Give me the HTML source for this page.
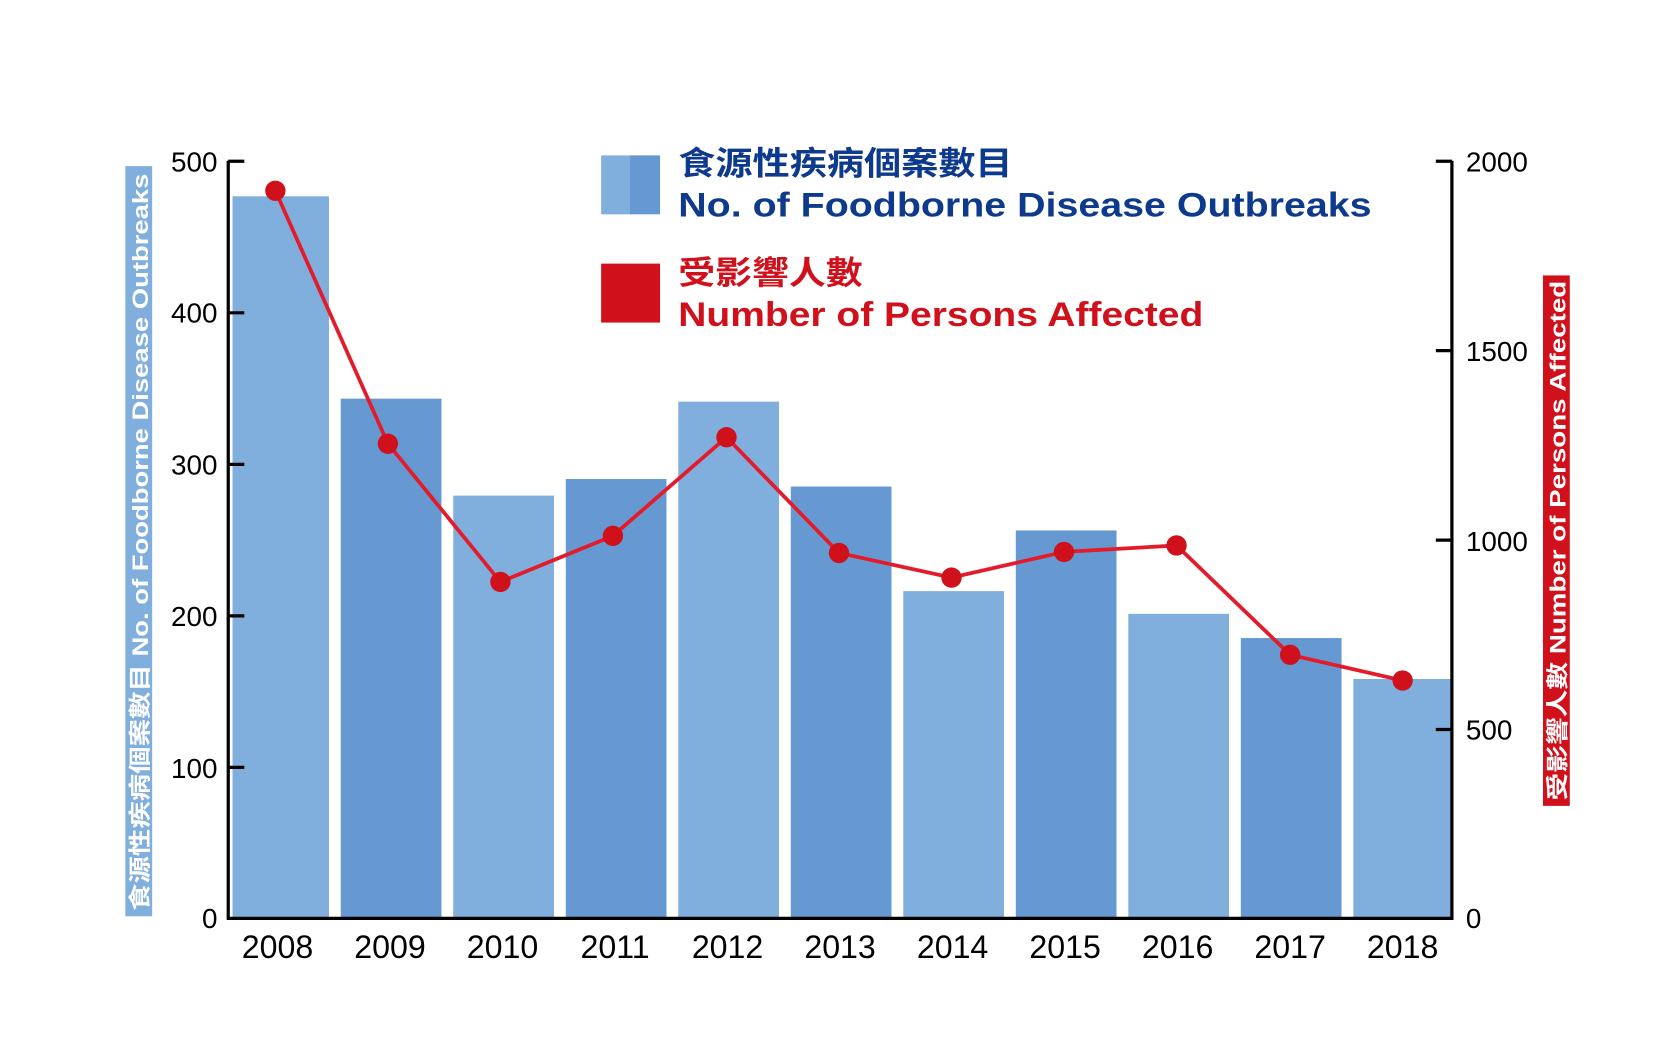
<!DOCTYPE html>
<html><head><meta charset="utf-8"><style>html,body{margin:0;padding:0;background:#fff}svg{display:block}</style></head>
<body>
<svg width="1678" height="1062" viewBox="0 0 1566 991" preserveAspectRatio="none" xmlns="http://www.w3.org/2000/svg" font-family="Liberation Sans, Noto Sans CJK TC, sans-serif">
<rect width="1566" height="991" fill="#fff"/>
<g id="bars">
<rect x="217" y="183.2" width="90" height="673.8" fill="#80aedd"/>
<rect x="318" y="372.0" width="94" height="485" fill="#6699d1"/>
<rect x="423" y="462.5" width="94" height="394.5" fill="#80aedd"/>
<rect x="528" y="447.0" width="94" height="410" fill="#6699d1"/>
<rect x="633" y="374.8" width="94" height="482.2" fill="#80aedd"/>
<rect x="738" y="454.0" width="94" height="403" fill="#6699d1"/>
<rect x="843" y="551.6" width="94" height="305.4" fill="#80aedd"/>
<rect x="948" y="495.0" width="94" height="362" fill="#6699d1"/>
<rect x="1053" y="572.8" width="94" height="284.2" fill="#80aedd"/>
<rect x="1158" y="595.4" width="94" height="261.6" fill="#6699d1"/>
<rect x="1263" y="633.6" width="92" height="223.4" fill="#80aedd"/>
</g>
<g stroke="#000" stroke-width="3" fill="none">
<path d="M213 150 V857 H1355 V150"/>
<path d="M213 150.5h15M213 291.9h15M213 433.3h15M213 574.7h15M213 716.1h15"/>
<path d="M1355 150.5h-15M1355 327.2h-15M1355 504h-15M1355 680.7h-15"/>
</g>
<g font-size="26" fill="#000" text-anchor="end">
<text x="203" y="160">500</text><text x="203" y="301">400</text><text x="203" y="443">300</text>
<text x="203" y="584">200</text><text x="203" y="726">100</text><text x="203" y="866">0</text>
</g>
<g font-size="26" fill="#000">
<text x="1368" y="160">2000</text><text x="1368" y="337">1500</text><text x="1368" y="514">1000</text>
<text x="1368" y="690">500</text><text x="1368" y="866">0</text>
</g>
<g font-size="30" fill="#000" text-anchor="middle">
<text x="259" y="894">2008</text><text x="364" y="894">2009</text><text x="469" y="894">2010</text>
<text x="574" y="894">2011</text><text x="679" y="894">2012</text><text x="784" y="894">2013</text>
<text x="889" y="894">2014</text><text x="994" y="894">2015</text><text x="1099" y="894">2016</text>
<text x="1204" y="894">2017</text><text x="1309" y="894">2018</text>
</g>
<polyline fill="none" stroke="#e31b2a" stroke-width="3.5" points="257,178 362,414 467,543 572,500 678,408 783,516 888,539 993,515 1098,509 1204,611 1309,635"/>
<g fill="#d0111c">
<circle cx="257" cy="178" r="9.5"/><circle cx="362" cy="414" r="9.5"/><circle cx="467" cy="543" r="9.5"/>
<circle cx="572" cy="500" r="9.5"/><circle cx="678" cy="408" r="9.5"/><circle cx="783" cy="516" r="9.5"/>
<circle cx="888" cy="539" r="9.5"/><circle cx="993" cy="515" r="9.5"/><circle cx="1098" cy="509" r="9.5"/>
<circle cx="1204" cy="611" r="9.5"/><circle cx="1309" cy="635" r="9.5"/>
</g>
<rect x="561" y="145" width="28" height="55" fill="#80aedd"/><rect x="588" y="145" width="28" height="55" fill="#6699d1"/>
<rect x="561" y="246" width="55" height="55" fill="#d0111c"/>
<text x="633" y="163" font-size="30" font-weight="bold" fill="#0d3a8c" textLength="312" lengthAdjust="spacingAndGlyphs">食源性疾病個案數目</text>
<text x="633" y="202" font-size="32" font-weight="bold" fill="#0d3a8c" textLength="647" lengthAdjust="spacingAndGlyphs">No. of Foodborne Disease Outbreaks</text>
<text x="633" y="265" font-size="30" font-weight="bold" fill="#d0111c" textLength="172" lengthAdjust="spacingAndGlyphs">受影響人數</text>
<text x="633" y="304" font-size="32" font-weight="bold" fill="#d0111c" textLength="490" lengthAdjust="spacingAndGlyphs">Number of Persons Affected</text>
<rect x="117" y="155" width="25" height="700" fill="#80aedd"/>
<text transform="translate(138,850) rotate(-90)" font-size="21" font-weight="bold" fill="#fff" textLength="688" lengthAdjust="spacingAndGlyphs">食源性疾病個案數目 No. of Foodborne Disease Outbreaks</text>
<rect x="1440" y="257" width="25" height="495" fill="#d0111c"/>
<text transform="translate(1461,747) rotate(-90)" font-size="21" font-weight="bold" fill="#fff" textLength="485" lengthAdjust="spacingAndGlyphs">受影響人數 Number of Persons Affected</text>
</svg>
</body></html>
